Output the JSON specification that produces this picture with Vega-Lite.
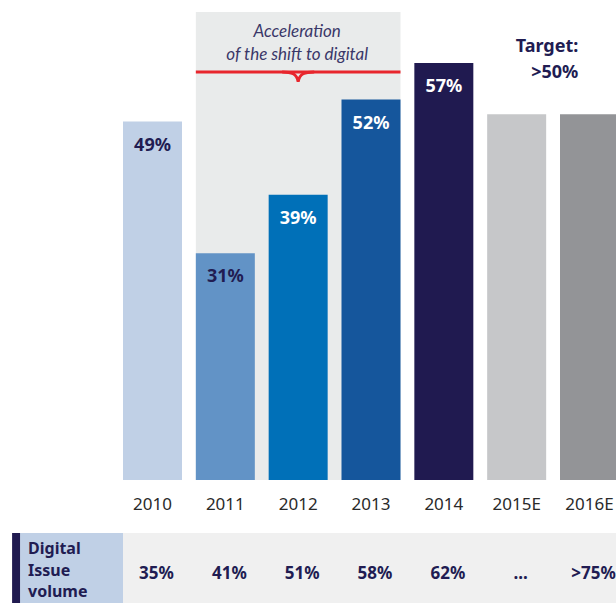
{
  "$schema": "https://vega.github.io/schema/vega-lite/v6.json",
  "width": 616,
  "height": 603,
  "padding": 0,
  "autosize": {"type": "none"},
  "background": "white",
  "config": {"view": {"stroke": null}, "axis": {"disable": true}},
  "datasets": {
    "main": [
      {"year": "2010", "share": 0.49, "kind": "actual"},
      {"year": "2011", "share": 0.31, "kind": "actual"},
      {"year": "2012", "share": 0.39, "kind": "actual"},
      {"year": "2013", "share": 0.52, "kind": "actual"},
      {"year": "2014", "share": 0.57, "kind": "actual"},
      {"year": "2015E", "share": 0.50, "kind": "target"},
      {"year": "2016E", "share": 0.50, "kind": "target"}
    ],
    "digital": [
      {"year": "2010", "volume": "35%"},
      {"year": "2011", "volume": "41%"},
      {"year": "2012", "volume": "51%"},
      {"year": "2013", "volume": "58%"},
      {"year": "2014", "volume": "62%"},
      {"year": "2015E", "volume": "..."},
      {"year": "2016E", "volume": ">75%"}
    ],
    "one": [{"k": 1}]
  },
  "layer": [
    {
      "data": {"name": "one"},
      "mark": {"type": "rect", "color": "#e9ebeb"},
      "encoding": {
        "x": {"datum": "2011", "type": "nominal", "bandPosition": 0, "scale": {"domain": ["2010","2011","2012","2013","2014","2015E","2016E"], "range": [123, 619], "paddingInner": 0.19, "paddingOuter": 0}},
        "x2": {"datum": "2013", "bandPosition": 1},
        "y": {"datum": 0, "type": "quantitative", "scale": {"domain": [-0.1681, 0.6561], "nice": false, "zero": false}},
        "y2": {"datum": 0.6397}
      }
    },
    {
      "data": {"name": "one"},
      "mark": {"type": "rule", "color": "#e8262d", "strokeWidth": 3},
      "encoding": {
        "x": {"datum": "2011", "type": "nominal", "bandPosition": 0, "scale": {"domain": ["2010","2011","2012","2013","2014","2015E","2016E"], "range": [123, 619], "paddingInner": 0.19, "paddingOuter": 0}},
        "x2": {"datum": "2013", "bandPosition": 1},
        "y": {"datum": 0.5577, "type": "quantitative", "scale": {"domain": [-0.1681, 0.6561], "nice": false, "zero": false}}
      }
    },
    {
      "data": {"name": "one"},
      "mark": {"type": "point", "filled": false, "stroke": "#e8262d", "strokeWidth": 3, "opacity": 1, "size": 1024, "shape": "M-1,0C-0.4,0 -0.1,0.1 0,0.6C0.1,0.1 0.4,0 1,0"},
      "encoding": {
        "x": {"datum": "2012", "type": "nominal", "scale": {"domain": ["2010","2011","2012","2013","2014","2015E","2016E"], "range": [123, 619], "paddingInner": 0.19, "paddingOuter": 0}},
        "y": {"datum": 0.5577, "type": "quantitative", "scale": {"domain": [-0.1681, 0.6561], "nice": false, "zero": false}}
      }
    },
    {
      "data": {"name": "main"},
      "mark": {"type": "bar"},
      "encoding": {
        "x": {"field": "year", "type": "nominal", "scale": {"domain": ["2010","2011","2012","2013","2014","2015E","2016E"], "range": [123, 619], "paddingInner": 0.19, "paddingOuter": 0}},
        "y": {"field": "share", "type": "quantitative", "scale": {"domain": [-0.1681, 0.6561], "nice": false, "zero": false}},
        "y2": {"datum": 0},
        "color": {"field": "year", "type": "nominal", "legend": null, "scale": {"domain": ["2010","2011","2012","2013","2014","2015E","2016E"], "range": ["#c0d0e6", "#6293c6", "#0070b8", "#15569c", "#201a50", "#c6c7c9", "#939497"]}}
      }
    },
    {
      "data": {"name": "main"},
      "transform": [{"filter": "datum.kind === 'actual'"}],
      "mark": {"type": "text", "dy": 24, "baseline": "middle", "font": "Noto Sans", "fontWeight": "bold", "fontSize": 18},
      "encoding": {
        "x": {"field": "year", "type": "nominal", "scale": {"domain": ["2010","2011","2012","2013","2014","2015E","2016E"], "range": [123, 619], "paddingInner": 0.19, "paddingOuter": 0}},
        "y": {"field": "share", "type": "quantitative", "scale": {"domain": [-0.1681, 0.6561], "nice": false, "zero": false}},
        "text": {"field": "share", "type": "quantitative", "format": ".0%"},
        "color": {"condition": {"test": "datum.year === '2010' || datum.year === '2011'", "value": "#211c52"}, "value": "#ffffff"}
      }
    },
    {
      "data": {"name": "main"},
      "mark": {"type": "text", "baseline": "middle", "font": "Noto Sans", "fontSize": 17, "color": "#2a2a2a"},
      "encoding": {
        "x": {"field": "year", "type": "nominal", "scale": {"domain": ["2010","2011","2012","2013","2014","2015E","2016E"], "range": [123, 619], "paddingInner": 0.19, "paddingOuter": 0}},
        "y": {"datum": -0.0341, "type": "quantitative", "scale": {"domain": [-0.1681, 0.6561], "nice": false, "zero": false}},
        "text": {"field": "year", "type": "nominal"}
      }
    },
    {
      "data": {"name": "one"},
      "mark": {"type": "text", "baseline": "middle", "align": "center", "lineBreak": "\n", "lineHeight": 23, "font": "Lato", "fontStyle": "italic", "fontSize": 17, "color": "#3a3768", "dx": -1},
      "encoding": {
        "x": {"datum": "2012", "type": "nominal", "scale": {"domain": ["2010","2011","2012","2013","2014","2015E","2016E"], "range": [123, 619], "paddingInner": 0.19, "paddingOuter": 0}},
        "y": {"datum": 0.6124, "type": "quantitative", "scale": {"domain": [-0.1681, 0.6561], "nice": false, "zero": false}},
        "text": {"value": "Acceleration\nof the shift to digital"}
      }
    },
    {
      "data": {"name": "one"},
      "mark": {"type": "text", "baseline": "middle", "align": "right", "lineBreak": "\n", "lineHeight": 26, "font": "Noto Sans", "fontWeight": "bold", "fontSize": 18, "color": "#211c52"},
      "encoding": {
        "x": {"datum": "2016E", "type": "nominal", "bandPosition": 0.31, "scale": {"domain": ["2010","2011","2012","2013","2014","2015E","2016E"], "range": [123, 619], "paddingInner": 0.19, "paddingOuter": 0}},
        "y": {"datum": 0.5919, "type": "quantitative", "scale": {"domain": [-0.1681, 0.6561], "nice": false, "zero": false}},
        "text": {"value": "Target:\n>50%"}
      }
    },
    {
      "data": {"name": "one"},
      "mark": {"type": "rect", "color": "#f0f0f0"},
      "encoding": {
        "x": {"datum": "2010", "type": "nominal", "bandPosition": 0, "scale": {"domain": ["2010","2011","2012","2013","2014","2015E","2016E"], "range": [123, 619], "paddingInner": 0.19, "paddingOuter": 0}},
        "x2": {"datum": "2016E", "bandPosition": 1},
        "y": {"datum": -0.0724, "type": "quantitative", "scale": {"domain": [-0.1681, 0.6561], "nice": false, "zero": false}},
        "y2": {"datum": -0.1681}
      }
    },
    {
      "data": {"name": "one"},
      "mark": {"type": "rect", "color": "#c0d0e6"},
      "encoding": {
        "x": {"datum": "2010", "type": "nominal", "bandPosition": -1.745, "scale": {"domain": ["2010","2011","2012","2013","2014","2015E","2016E"], "range": [123, 619], "paddingInner": 0.19, "paddingOuter": 0}},
        "x2": {"datum": "2010", "bandPosition": 0},
        "y": {"datum": -0.0724, "type": "quantitative", "scale": {"domain": [-0.1681, 0.6561], "nice": false, "zero": false}},
        "y2": {"datum": -0.1681}
      }
    },
    {
      "data": {"name": "one"},
      "mark": {"type": "rect", "color": "#201a50"},
      "encoding": {
        "x": {"datum": "2010", "type": "nominal", "bandPosition": -1.88, "scale": {"domain": ["2010","2011","2012","2013","2014","2015E","2016E"], "range": [123, 619], "paddingInner": 0.19, "paddingOuter": 0}},
        "x2": {"datum": "2010", "bandPosition": -1.745},
        "y": {"datum": -0.0724, "type": "quantitative", "scale": {"domain": [-0.1681, 0.6561], "nice": false, "zero": false}},
        "y2": {"datum": -0.1681}
      }
    },
    {
      "data": {"name": "one"},
      "mark": {"type": "text", "baseline": "middle", "align": "left", "lineBreak": "\n", "lineHeight": 21.5, "font": "Noto Sans", "fontWeight": "bold", "fontSize": 16, "color": "#211c52"},
      "encoding": {
        "x": {"datum": "2010", "type": "nominal", "bandPosition": -1.61, "scale": {"domain": ["2010","2011","2012","2013","2014","2015E","2016E"], "range": [123, 619], "paddingInner": 0.19, "paddingOuter": 0}},
        "y": {"datum": -0.0943, "type": "quantitative", "scale": {"domain": [-0.1681, 0.6561], "nice": false, "zero": false}},
        "text": {"value": "Digital\nIssue\nvolume"}
      }
    },
    {
      "data": {"name": "digital"},
      "mark": {"type": "text", "baseline": "middle", "align": "center", "dx": 4, "font": "Noto Sans", "fontWeight": "bold", "fontSize": 17, "color": "#211c52"},
      "encoding": {
        "x": {"field": "year", "type": "nominal", "scale": {"domain": ["2010","2011","2012","2013","2014","2015E","2016E"], "range": [123, 619], "paddingInner": 0.19, "paddingOuter": 0}},
        "y": {"datum": -0.1285, "type": "quantitative", "scale": {"domain": [-0.1681, 0.6561], "nice": false, "zero": false}},
        "text": {"field": "volume", "type": "nominal"}
      }
    }
  ]
}
